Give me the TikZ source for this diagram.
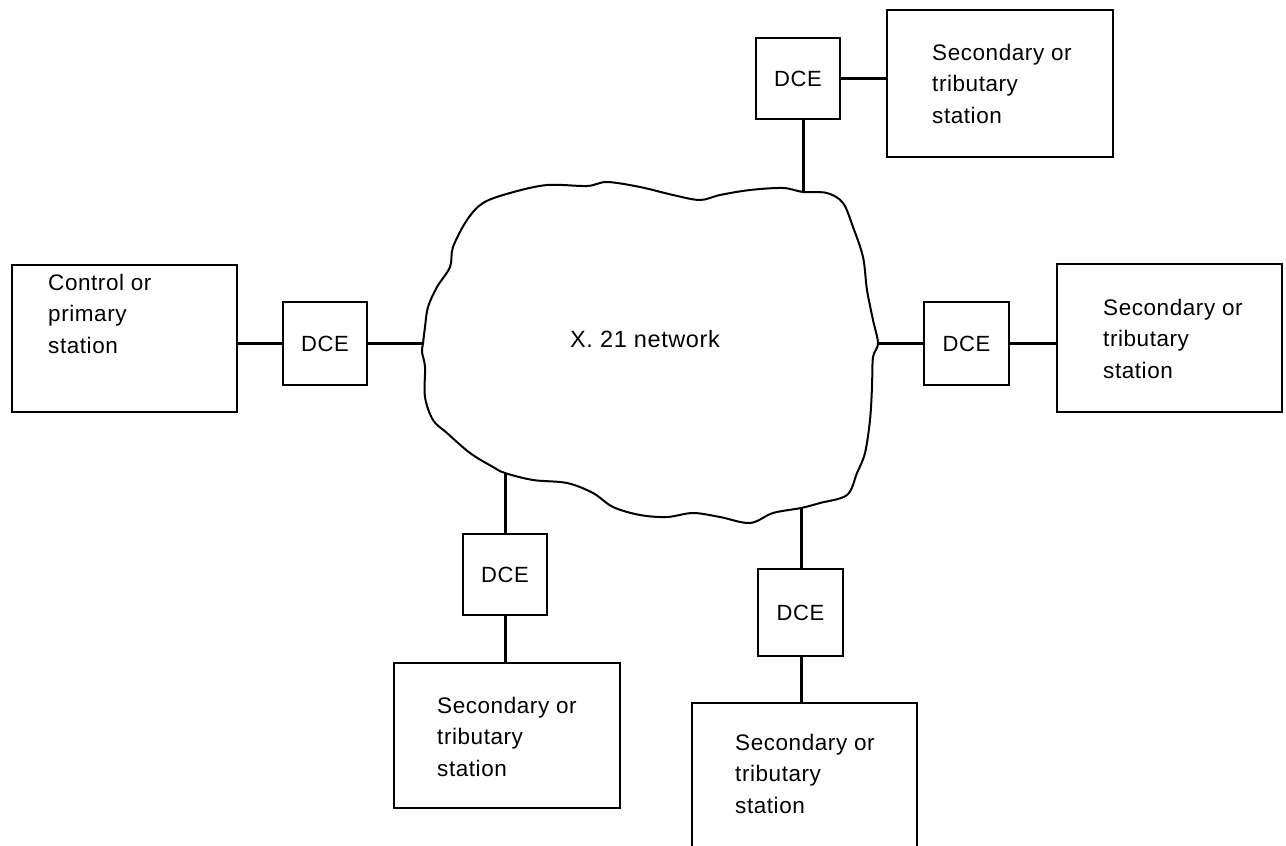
\documentclass[tikz,border=0pt]{standalone}
\usepackage{fontspec}
\setmainfont{Liberation Sans}
\newfontfamily\labelfont[LetterSpace=2.5]{Liberation Sans}
% left-aligned block of lines whose baseline is the first line's
\newcommand{\stationlines}[1]{\begin{tabular}[t]{@{}l@{}}#1\end{tabular}}
\begin{document}
\begin{tikzpicture}[x=1pt,y=-1pt,
  box/.style={draw, line width=2pt, inner sep=0pt},
  dcebox/.style={box, minimum width=84pt, minimum height=82pt,
    font=\labelfont\fontsize{22}{31.5}\selectfont},
  stationbox/.style={box, minimum width=226pt, minimum height=147pt},
  stationtext/.style={anchor=base west, inner sep=0pt,
    font=\labelfont\fontsize{22.5}{31.5}\selectfont},
  link/.style={line width=3pt},
  cloudline/.style={line width=2pt, line join=round}
]
\clip (0,0) rectangle (1286,846);
\fill[white] (0,0) rectangle (1286,846);

% points where the links meet the network outline
\coordinate (cT)  at (803,192);
\coordinate (cR)  at (878,343.5);
\coordinate (cL)  at (423,343.5);
\coordinate (cBL) at (505,473);
\coordinate (cBR) at (801,508);

% the X.21 network cloud
\draw[cloudline] plot[smooth cycle, tension=0.55] coordinates {
  (607,182) (640,187) (673,195) (700,200) (720,195) (750,190) (783,188)
  (cT) (827,193) (843,203) (853,227) (863,257) (867,290) (873,320)
  (cR) (873,357) (872,387) (870,420) (865,453) (857,473) (847,495)
  (820,503) (cBR) (773,513) (750,523) (720,517) (693,513) (667,517)
  (640,515) (613,507) (593,493) (567,483) (533,480) (cBL) (493,467)
  (470,453) (447,433) (433,420) (425,397) (425,367) (422,352)
  (cL) (425,327) (428,307) (437,287) (450,267) (453,247) (467,220)
  (483,203) (510,193) (547,185) (587,186)};
\node[font=\labelfont\fontsize{23.5}{28}\selectfont] (net) at (645,339) {X. 21 network};

% control station on the left
\node[stationbox, minimum width=225pt] (ctrl) at (124.5,338.5) {};
\node[stationtext] (ctrltext) at (48,290) {\stationlines{Control or\\primary\\station}};
\node[dcebox, minimum height=83pt] (dceL) at (325,343.5) {DCE};
\draw[link] (dceL.west) -- (dceL.west -| ctrl.east);
\draw[link] (dceL.east) -- (cL);

% secondary station at the top
\node[dcebox, minimum height=81pt] (dceT) at (798,78.5) {DCE};
\node[stationbox] (secT) at (1000,83.5) {};
\node[stationtext] (secTtext) at (932,60) {\stationlines{Secondary or\\tributary\\station}};
\draw[link] (dceT.east) -- (dceT.east -| secT.west);
\draw[link] (cT) -- (cT |- dceT.south);

% secondary station on the right
\node[dcebox, minimum width=85pt, minimum height=83pt] (dceR) at (966.5,343.5) {DCE};
\node[stationbox, minimum width=225pt, minimum height=148pt] (secR) at (1169.5,338) {};
\node[stationtext] (secRtext) at (1103,315) {\stationlines{Secondary or\\tributary\\station}};
\draw[link] (cR) -- (dceR.west);
\draw[link] (dceR.east) -- (dceR.east -| secR.west);

% secondary station bottom left
\node[dcebox, minimum height=81pt] (dceBL) at (505,574.5) {DCE};
\node[stationbox, minimum height=145pt] (secBL) at (507,735.5) {};
\node[stationtext] (secBLtext) at (437,713) {\stationlines{Secondary or\\tributary\\station}};
\draw[link] (cBL) -- (dceBL.north);
\draw[link] (dceBL.south) -- (dceBL.south |- secBL.north);

% secondary station bottom right
\node[dcebox, minimum width=85pt, minimum height=87pt] (dceBR) at (800.5,612.5) {DCE};
\node[stationbox, minimum width=225pt, minimum height=148pt] (secBR) at (804.5,777) {};
\node[stationtext] (secBRtext) at (735,750) {\stationlines{Secondary or\\tributary\\station}};
\draw[link] (cBR) -- (cBR |- dceBR.north);
\draw[link] (cBR |- dceBR.south) -- (cBR |- secBR.north);
\end{tikzpicture}
\end{document}
